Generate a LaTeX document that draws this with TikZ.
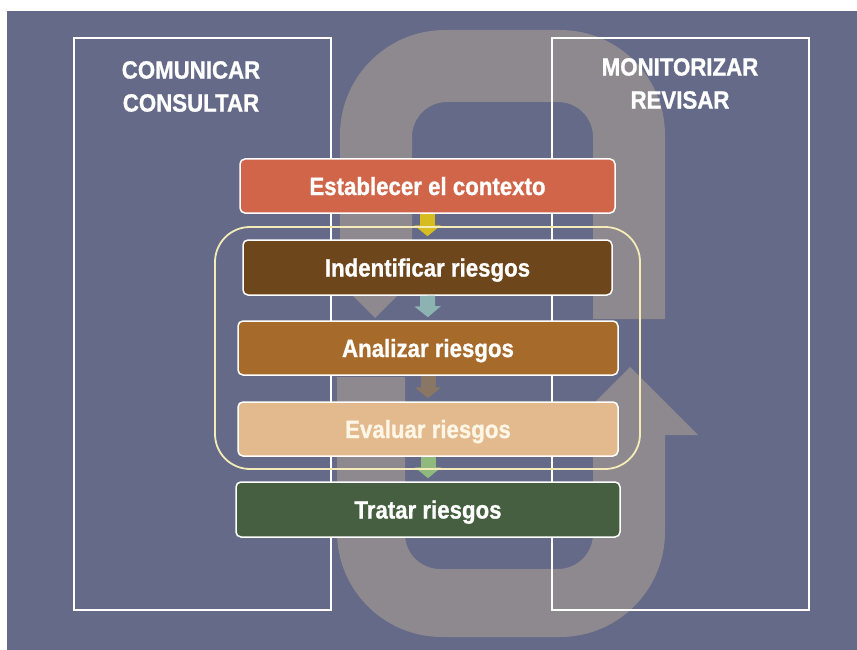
\documentclass[tikz,border=0pt]{standalone}
\usepackage{fontspec}
\newfontfamily\labelfont{Liberation Sans}[FakeStretch=0.89, FakeBold=1]
\usetikzlibrary{arrows.meta}
\definecolor{fondo}{HTML}{646A87}
\definecolor{lazo}{HTML}{8E898E}
\definecolor{marcoamarillo}{HTML}{F4EBB8}
\definecolor{cestablecer}{HTML}{D1654A}
\definecolor{cidentificar}{HTML}{6D461B}
\definecolor{canalizar}{HTML}{A66A2A}
\definecolor{cevaluar}{HTML}{E3BA8E}
\definecolor{tevaluar}{HTML}{FFF6E6}
\definecolor{ctratar}{HTML}{465F40}
\definecolor{fama}{HTML}{D6BC1E}
\definecolor{fazul}{HTML}{8CB3B1}
\definecolor{fmarron}{HTML}{8A7664}
\definecolor{fverde}{HTML}{90B97D}
\begin{document}
\begin{tikzpicture}[x=1pt,y=-1pt,
	caja/.style={draw=white, line width=1.5pt, rounded corners=5pt, text=white,
		font=\labelfont\bfseries\fontsize{25}{30}\selectfont, text height=18pt, text depth=0pt},
	titulo/.style={text=white, align=center, inner sep=0pt,
		font=\labelfont\bfseries\fontsize{25}{33}\selectfont},
	flecha/.style={line width=15pt, -{Triangle[length=11pt,width=26pt]}, shorten >=3pt},
	marco/.style={draw=white, line width=1.5pt}]
	\useasboundingbox (0,0) rectangle (857,650);
	\fill[white] (0,0) rectangle (857,650);
	\fill[fondo] (7,11) rectangle (857,650);

	\fill[lazo] (340,251) -- (308,251) -- (375,318) -- (442,251) -- (412,251) -- (412,137)
		arc[start angle=180, end angle=270, radius=35] -- (558,102)
		arc[start angle=270, end angle=360, radius=35] -- (593,319) -- (665,319) -- (665,135)
		arc[start angle=0, end angle=-90, radius=105] -- (445,30)
		arc[start angle=270, end angle=180, radius=105] -- cycle;
	\fill[lazo] (337,377) -- (337,532)
		arc[start angle=180, end angle=90, radius=105] -- (560,637)
		arc[start angle=90, end angle=0, radius=105] -- (665,435) -- (698,435) -- (630,367)
		-- (562,435) -- (593,435) -- (593,534)
		arc[start angle=0, end angle=90, radius=35] -- (440,569)
		arc[start angle=90, end angle=180, radius=35] -- (405,377) -- cycle;

	\draw[marco] (74,38) rectangle (331,610);
	\draw[marco] (552,38) rectangle (809,610);

	\node[titulo] (com) at (191,86.5) {COMUNICAR\\CONSULTAR};
	\node[titulo] (mon) at (680,83.5) {MONITORIZAR\\REVISAR};

	\node[caja, fill=cestablecer, minimum width=375pt, minimum height=54pt] (est) at (427.5,186) {Establecer el contexto};
	\node[caja, fill=cidentificar, minimum width=369pt, minimum height=55pt] (ide) at (427.5,267.5) {Indentificar riesgos};
	\node[caja, fill=canalizar, minimum width=380pt, minimum height=54pt] (ana) at (428,348) {Analizar riesgos};
	\node[caja, fill=cevaluar, text=tevaluar, minimum width=380pt, minimum height=54pt] (eva) at (428,429) {Evaluar riesgos};
	\node[caja, fill=ctratar, minimum width=384pt, minimum height=55pt] (tra) at (428,509.5) {Tratar riesgos};

	\draw[flecha, fama] (est.south) -- (ide.north);
	\draw[flecha, fazul] (ide.south) -- (ana.north);
	\draw[flecha, fmarron] (ana.south) -- (eva.north);
	\draw[flecha, fverde] (eva.south) -- (tra.north);

	\draw[marcoamarillo, line width=1.8pt, rounded corners=35pt] (215,227) rectangle (640,469);
\end{tikzpicture}
\end{document}
